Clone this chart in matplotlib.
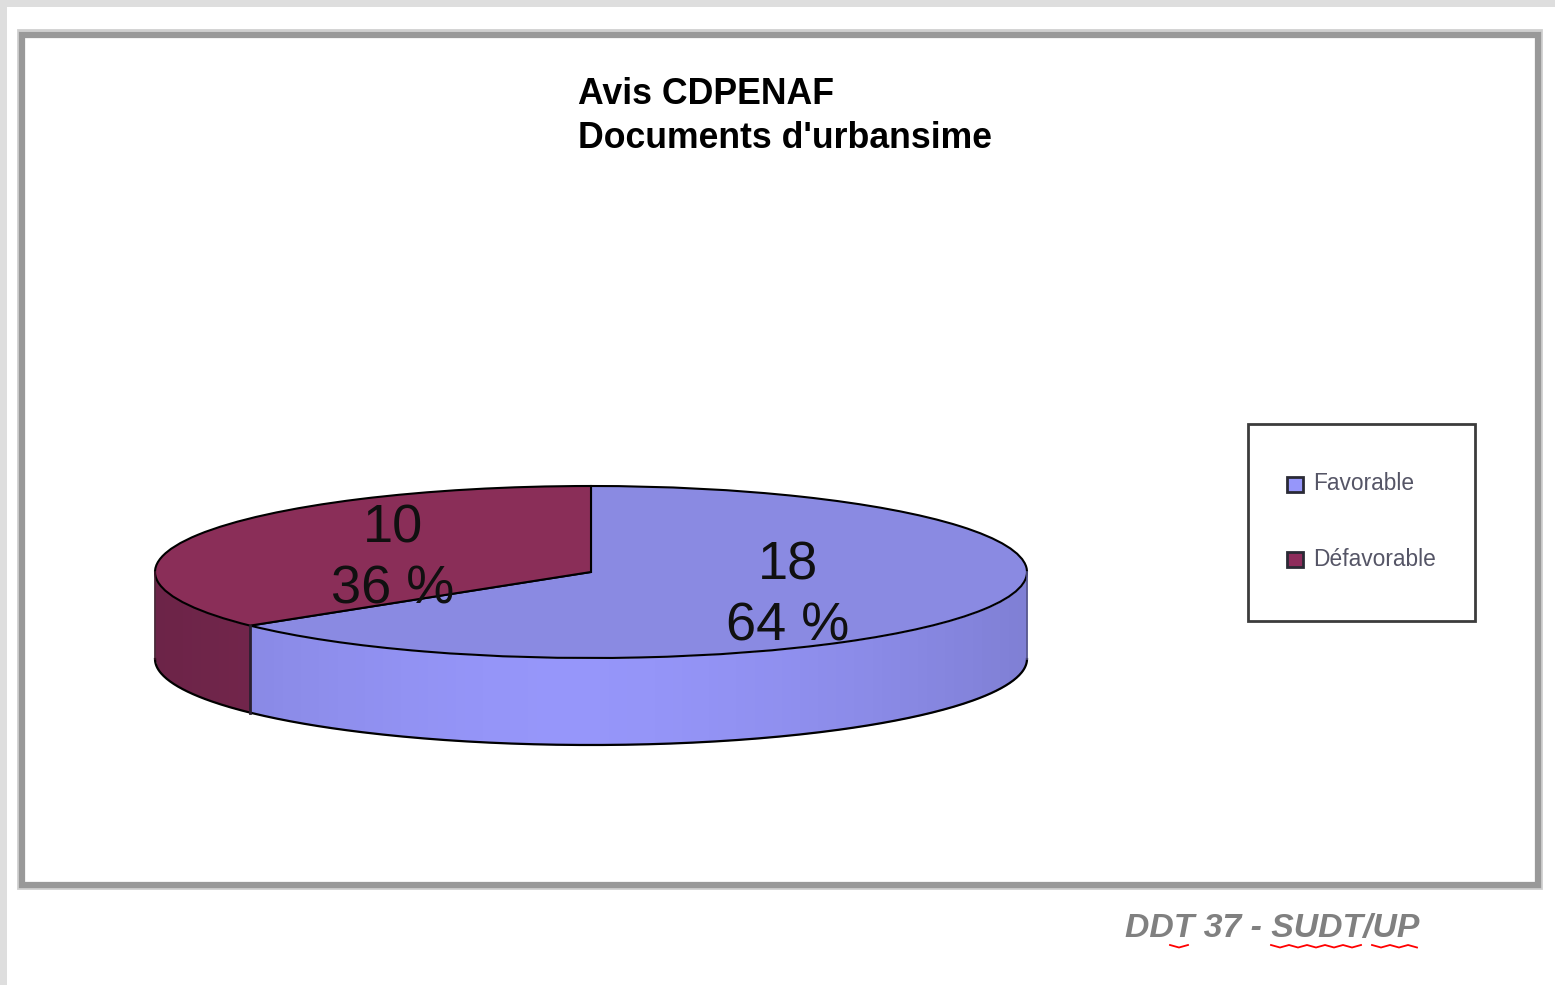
import matplotlib
matplotlib.use('Agg')
import matplotlib.pyplot as plt
import numpy as np
from matplotlib.patches import Rectangle

plt.rcParams['font.family'] = ['Liberation Sans', 'DejaVu Sans']

# data
labels = ['Favorable', 'Défavorable']
values = [18, 10]
percents = ['64 %', '36 %']
title_lines = ['Avis CDPENAF', "Documents d'urbansime"]
footer = 'DDT 37 - SUDT/UP'
top_colors = ['#8a8ae2', '#8a2e58']

W, H = 1555, 985
fig = plt.figure(figsize=(W / 100, H / 100), dpi=100)

# page background, frame, legend box are laid out in pixels
bg = fig.add_axes([0, 0, 1, 1])
bg.set_xlim(0, W)
bg.set_ylim(H, 0)
bg.axis('off')
bg.add_patch(Rectangle((0, 0), W, 7, color='#dedede', lw=0))
bg.add_patch(Rectangle((0, 0), 7, H, color='#dedede', lw=0))
bg.add_patch(Rectangle((17.5, 29.5), 1523, 858, fc='none', ec='#cfcfcf', lw=2))
bg.add_patch(Rectangle((21.5, 34.5), 1516, 850, fc='white', ec='#999999', lw=4.5))

# pie axes: 1 unit = the ellipse radii, so the pie is squashed by the aspect
cx, cy, rx, ry, depth = 591, 572, 436, 86, 87
ax = fig.add_axes([0, 0, 1, 1], facecolor='none')
ax.axis('off')

total = sum(values)
d = depth / ry
split_x = np.cos(np.deg2rad(90 - 360 * values[0] / total))

# front wall, drawn as vertical strips for the shading
light = np.array([0x96, 0x96, 0xfa]) / 255
dark = np.array([0x7c, 0x29, 0x52]) / 255
xs = np.sort(np.append(np.linspace(-1, 1, 97), split_x))
for a, b in zip(xs[:-1], xs[1:]):
    xm = (a + b) / 2
    x = np.linspace(a, min(b + 0.002, 1), 6)
    y = -np.sqrt(np.clip(1 - x ** 2, 0, 1))
    base = light if xm > split_x else dark
    col = base * (1 - 0.14 * abs(xm + 0.05) ** 1.6)
    ax.fill_between(x, y, y - d, color=col, lw=0, antialiased=False)

# wall outline
ts = np.linspace(np.pi, 2 * np.pi, 300)
ax.plot(np.cos(ts), np.sin(ts) - d, color='black', lw=1.6)
ax.plot([-1, -1], [0, -d], color='#3a1526', lw=1.2)
ax.plot([1, 1], [0, -d], color='#55558a', lw=1.2)
split_y = -np.sqrt(1 - split_x ** 2)
ax.plot([split_x] * 2, [split_y, split_y - d], color='#2a2030', lw=2)

# top face
ax.pie(values, colors=top_colors, startangle=90, counterclock=False, radius=1,
       wedgeprops={'edgecolor': 'black', 'linewidth': 1.5})
ax.set_aspect('auto')
ax.set_xlim(-cx / rx, (W - cx) / rx)
ax.set_ylim(-(H - cy) / ry, cy / ry)

# data labels
bg2 = fig.add_axes([0, 0, 1, 1], facecolor='none')
bg2.set_xlim(0, W)
bg2.set_ylim(H, 0)
bg2.axis('off')
label_pos = [(788, 596), (393, 559)]
for v, p, (x, y) in zip(values, percents, label_pos):
    bg2.text(x, y, f'{v}\n{p}', ha='center', va='center', fontsize=39, color='#101010',
             linespacing=1.26)

# title
bg2.text(578, 95, title_lines[0], fontsize=25.7, fontweight='bold', va='center', ha='left')
bg2.text(578, 138, title_lines[1], fontsize=25.7, fontweight='bold', va='center', ha='left')

# legend box
bg2.add_patch(Rectangle((1248, 424), 227, 197, fc='white', ec='#3c3c3c', lw=2))
for name, col, y in zip(labels, ['#9696fa', '#8e2c5c'], [484, 559]):
    bg2.add_patch(Rectangle((1287, y - 7), 16, 15, fc=col, ec='#2a2a35', lw=2))
    bg2.text(1313, y + 0, name, fontsize=16.4, va='center', ha='left', color='#555566')

# footer, with the spell-check squiggles under it
bg2.text(1125, 929, footer, fontsize=24.3, fontstyle='italic', fontweight='bold', color='#808080',
         va='center', ha='left')
for x0, x1 in [(1170, 1193), (1271, 1362), (1372, 1417)]:
    sx = np.arange(x0, x1 + 1, 9)
    sy = 945 + np.where(np.arange(len(sx)) % 2 == 0, 0, 2.5)
    bg2.plot(sx, sy, color='#ff0000', lw=1.3)

fig.savefig('out.png', dpi=100)
